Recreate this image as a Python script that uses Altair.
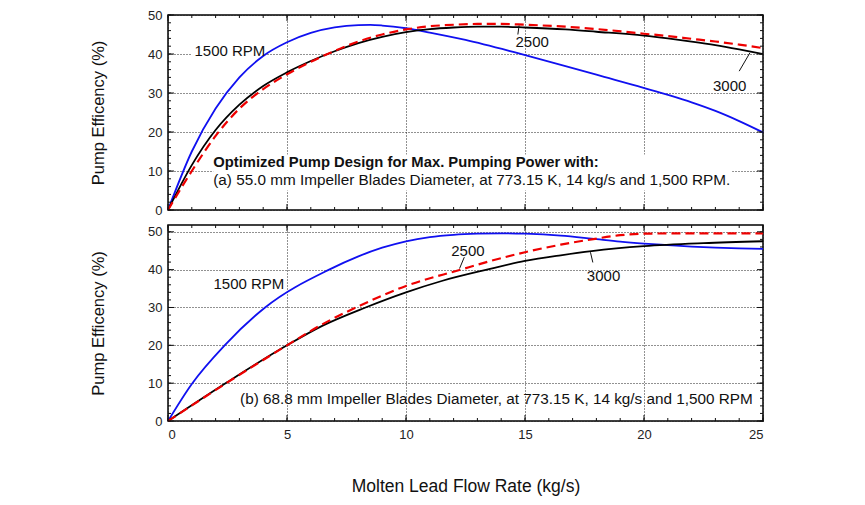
import altair as alt
import pandas as pd

FONT = "Liberation Sans"

# ---------- Panel (a) data ----------
a_x_1500 = [0, 1, 2, 3, 4, 5, 6, 7, 8, 8.5, 9, 10, 11, 12.5, 14.7, 16.7, 18, 20.9, 22, 23, 24, 25]
a_y_1500 = [0, 15, 26, 34, 39.5, 43, 45.4, 46.8, 47.4, 47.45, 47.3, 46.6, 45.5, 43.6, 40.2, 36.9, 34.7, 29.7, 27.6, 25.4, 22.8, 19.9]

a_x_3000 = [0, 1, 2, 3, 4, 5, 6, 7, 8, 9, 10, 11, 12, 13, 14, 15, 16.7, 18, 20, 21, 22, 23, 24, 25]
a_y_3000 = [0, 11.5, 20.5, 27, 31.8, 35.3, 38.2, 40.7, 42.8, 44.4, 45.6, 46.4, 46.8, 47.0, 47.0, 46.8, 46.3, 45.7, 44.7, 44.0, 43.2, 42.3, 41.2, 40.0]

a_x_2500 = [0, 1, 2, 3, 4, 5, 6, 7, 8, 9, 10, 11, 12, 13, 14, 15, 16.7, 18, 20, 21, 22, 23, 24, 25]
a_y_2500 = [0, 10, 19, 26, 31, 34.8, 38, 40.8, 43.2, 45, 46.3, 47.1, 47.5, 47.7, 47.7, 47.5, 47.0, 46.4, 45.2, 44.6, 43.9, 43.2, 42.4, 41.5]

# ---------- Panel (b) data ----------
b_x_1500 = [0, 1.0, 2.38, 4.08, 6.77, 8, 9, 10, 11, 12, 13, 14, 15, 16.5, 17.8, 19, 20, 21, 22, 23, 24, 25]
b_y_1500 = [0, 9.8, 20, 30, 40, 43.5, 45.8, 47.5, 48.6, 49.2, 49.5, 49.6, 49.5, 49.0, 48.2, 47.4, 46.9, 46.5, 46.1, 45.8, 45.6, 45.5]

b_x_3000 = [0, 2.5, 5, 6.5, 8.3, 10, 11.5, 13.4, 15, 16.5, 17.8, 20, 22.5, 25]
b_y_3000 = [0, 10.3, 20, 25.2, 30, 34, 37, 40, 42.3, 43.8, 44.9, 46.2, 47.0, 47.5]

b_x_2500 = [0, 2.5, 5, 6.5, 8.1, 10, 12.3, 13.5, 15, 16.5, 17.8, 19, 20, 22, 25]
b_y_2500 = [0, 10.2, 20, 25.6, 30.6, 35.7, 40, 42.2, 44.6, 46.6, 48.0, 49.1, 49.5, 49.6, 49.6]

# ---------- Labels ----------
a_lbl_text = ["1500 RPM", "2500", "3000"]
a_lbl_x = [2.6, 15.3, 23.6]
a_lbl_y = [40.8, 43.2, 31.9]
a_lead_x = [14.7, 24.0]
a_lead_y = [45.0, 35.6]
a_lead_x2 = [14.75, 24.45]
a_lead_y2 = [47.3, 40.3]

b_lbl_text = ["1500 RPM", "2500", "3000"]
b_lbl_x = [3.4, 12.6, 18.3]
b_lbl_y = [36.1, 44.9, 38.3]
b_lead_x = [12.45, 17.85]
b_lead_y = [43.3, 41.9]
b_lead_x2 = [12.25, 17.75]
b_lead_y2 = [40.3, 44.6]

a_note1 = "Optimized Pump Design for Max. Pumping Power with:"
a_note2 = "(a) 55.0 mm Impeller Blades Diameter, at 773.15 K, 14 kg/s and 1,500 RPM."
a_note_x = 1.9
a_note_y = [12.0, 7.6]
b_note = "(b) 68.8 mm Impeller Blades Diameter, at 773.15 K, 14 kg/s and 1,500 RPM"
b_note_x = 13.8
b_note_y = 5.8

# white boxes behind annotations (data units)
a_box_x = [1.9, 1.0]
a_box_x2 = [23.7, 4.15]
a_box_y = [5.0, 38.6]
a_box_y2 = [14.2, 42.8]

x_major = [0, 5, 10, 15, 20, 25]
x_minor = [v for v in range(0, 26)]
a_y_major = [0, 10, 20, 30, 40, 50]
b_y_major = [0, 10, 20, 30, 40, 50]
a_y_minor = list(range(0, 51, 2))
b_y_minor = list(range(0, 53, 2))

W = 595
HA = 195
HB = 196

XDOM = [0, 25]
ADOM = [0, 50]
BDOM = [0, 51.8]


def lines_df(xs, ys):
    return pd.DataFrame({"x": xs, "y": ys})


def panel(curves, ydom, H, show_x_axis, labels, leads, boxes, notes, ymajor, yminor):
    xsc = alt.Scale(domain=XDOM, nice=False, zero=False)
    ysc = alt.Scale(domain=ydom, nice=False, zero=False)
    if show_x_axis:
        xaxis = alt.Axis(values=x_major, title="Molten Lead Flow Rate (kg/s)", grid=True,
                         gridDash=[1, 2], gridColor="#222", gridWidth=1, labelOverlap=False,
                         ticks=False, tickSize=0, labelPadding=7, titlePadding=36,
                         domain=False, labelFont=FONT, labelFontSize=13, labelColor="#222",
                         titleFont=FONT, titleFontSize=17.5, titleFontWeight="normal", titleColor="#111")
    else:
        xaxis = alt.Axis(values=x_major, title=None, labels=False, grid=True,
                         gridDash=[1, 2], gridColor="#222", gridWidth=1,
                         ticks=False, tickSize=0, domain=False)
    yaxis = alt.Axis(values=ymajor, title="Pump Efficency (%)", grid=True,
                     gridDash=[1, 2], gridColor="#222", gridWidth=1, labelOverlap=False,
                     ticks=False, tickSize=0, labelPadding=6, titlePadding=41,
                     domain=False, labelFont=FONT, labelFontSize=13, labelColor="#222",
                     titleFont=FONT, titleFontSize=16.5, titleFontWeight="normal", titleColor="#111")

    X = lambda f: alt.X(f, scale=xsc, axis=xaxis)
    Y = lambda f: alt.Y(f, scale=ysc, axis=yaxis)

    layers = []
    # white boxes
    if boxes is not None:
        bdf = pd.DataFrame({"x": boxes[0], "x2": boxes[1], "y": boxes[2], "y2": boxes[3]})
        layers.append(alt.Chart(bdf).mark_rect(color="white").encode(
            x=X("x:Q"), x2="x2:Q", y=Y("y:Q"), y2="y2:Q"))
    # curves
    styles = {
        "1500": dict(color="#1010f0", strokeWidth=1.8),
        "3000": dict(color="#000000", strokeWidth=1.8),
        "2500": dict(color="#ee0000", strokeWidth=2.2, strokeDash=[9, 5]),
    }
    for key in ["1500", "3000", "2500"]:
        xs, ys = curves[key]
        layers.append(alt.Chart(lines_df(xs, ys)).mark_line(interpolate="monotone", **styles[key]).encode(
            x=X("x:Q"), y=Y("y:Q")))
    # leader lines
    ldf = pd.DataFrame({"x": leads[0], "y": leads[1], "x2": leads[2], "y2": leads[3]})
    layers.append(alt.Chart(ldf).mark_rule(color="#111", strokeWidth=1).encode(
        x=X("x:Q"), y=Y("y:Q"), x2="x2:Q", y2="y2:Q"))
    # series labels
    tdf = pd.DataFrame({"t": labels[0], "x": labels[1], "y": labels[2]})
    layers.append(alt.Chart(tdf).mark_text(font=FONT, fontSize=15, color="#111").encode(
        x=X("x:Q"), y=Y("y:Q"), text="t:N"))
    # notes
    for nd in notes:
        ndf = pd.DataFrame({"t": [nd["text"]], "x": [nd["x"]], "y": [nd["y"]]})
        layers.append(alt.Chart(ndf).mark_text(font=FONT, fontSize=nd["size"], color="#111",
                                               align=nd["align"], fontWeight=nd["weight"]).encode(
            x=X("x:Q"), y=Y("y:Q"), text="t:N"))
    # inward ticks
    tick_col = "#111"
    xmaj = pd.DataFrame({"v": x_major})
    xmin = pd.DataFrame({"v": x_minor})
    ymaj = pd.DataFrame({"v": ymajor})
    ymin = pd.DataFrame({"v": yminor})
    for df, ln in [(xmaj, 6), (xmin, 3)]:
        layers.append(alt.Chart(df).mark_rule(color=tick_col, strokeWidth=1).encode(
            x=X("v:Q"), y=alt.value(H), y2=alt.value(H - ln)))
        layers.append(alt.Chart(df).mark_rule(color=tick_col, strokeWidth=1).encode(
            x=X("v:Q"), y=alt.value(0), y2=alt.value(ln)))
    for df, ln in [(ymaj, 6), (ymin, 3)]:
        df = df[df["v"] <= ydom[1]]
        layers.append(alt.Chart(df).mark_rule(color=tick_col, strokeWidth=1).encode(
            y=Y("v:Q"), x=alt.value(0), x2=alt.value(ln)))
        layers.append(alt.Chart(df).mark_rule(color=tick_col, strokeWidth=1).encode(
            y=Y("v:Q"), x=alt.value(W), x2=alt.value(W - ln)))

    return alt.layer(*layers).properties(width=W, height=H)


top = panel(
    {"1500": (a_x_1500, a_y_1500), "3000": (a_x_3000, a_y_3000), "2500": (a_x_2500, a_y_2500)},
    ADOM, HA, False,
    (a_lbl_text, a_lbl_x, a_lbl_y),
    (a_lead_x, a_lead_y, a_lead_x2, a_lead_y2),
    (a_box_x, a_box_x2, a_box_y, a_box_y2),
    [dict(text=a_note1, x=a_note_x, y=a_note_y[0], align="left", weight="bold", size=14.8),
     dict(text=a_note2, x=a_note_x, y=a_note_y[1], align="left", weight="normal", size=15.3)],
    a_y_major, a_y_minor,
)

bottom = panel(
    {"1500": (b_x_1500, b_y_1500), "3000": (b_x_3000, b_y_3000), "2500": (b_x_2500, b_y_2500)},
    BDOM, HB, True,
    (b_lbl_text, b_lbl_x, b_lbl_y),
    (b_lead_x, b_lead_y, b_lead_x2, b_lead_y2),
    None,
    [dict(text=b_note, x=b_note_x, y=b_note_y, align="center", weight="normal", size=15.3)],
    b_y_major, b_y_minor,
)

chart = alt.vconcat(top, bottom, spacing=5).properties(
    padding={"left": 81, "top": 0, "right": 5, "bottom": 5},
    background="white",
).configure_view(stroke="#000", strokeWidth=1.5).configure_concat(spacing=5).configure_axis(labelOverlap=False)

chart.save("out.html", embed_options={"renderer": "svg", "actions": False})
